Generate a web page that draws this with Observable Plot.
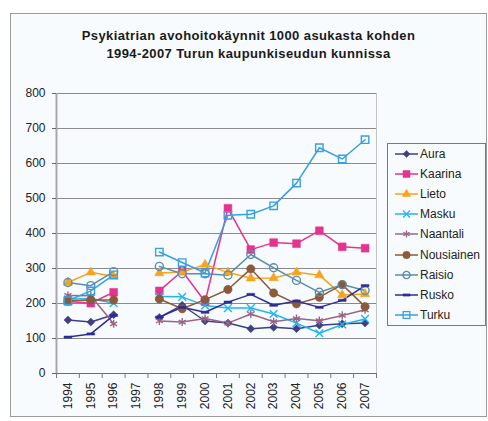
<!DOCTYPE html>
<html><head><meta charset="utf-8">
<script src="https://cdn.jsdelivr.net/npm/d3@7"></script>
<script src="https://cdn.jsdelivr.net/npm/@observablehq/plot@0.6"></script>
<style>
body{margin:0;background:#fff;font-family:"Liberation Sans",Arial,sans-serif;}
#wrap{position:relative;width:488px;height:421px;overflow:hidden;}
#frame{position:absolute;left:10px;top:13px;width:477px;height:404px;border:1px solid #9a9a9a;background:#f8fbfd;box-sizing:border-box;}
#title{position:absolute;left:10px;width:477px;top:27px;text-align:center;font-weight:bold;font-size:13px;line-height:18px;color:#1a1a1a;letter-spacing:0.4px;}
#chart{position:absolute;left:0;top:0;}
#legend{position:absolute;left:387px;top:143px;width:99px;height:183px;border:1px solid #7a7a7a;box-sizing:border-box;background:#f8fbfd;}
.row{display:flex;align-items:center;height:20.1px;font-size:12px;color:#222;}
.row svg{flex:none;}
</style></head><body>
<div id="wrap">
  <div id="frame"></div>
  <div id="title">Psykiatrian avohoitokäynnit 1000 asukasta kohden<br>1994-2007 Turun kaupunkiseudun kunnissa</div>
  <div id="chart"></div>
  <div id="legend"></div>
</div>
<script>
// ---- data ----
const years = [1994,1995,1996,1997,1998,1999,2000,2001,2002,2003,2004,2005,2006,2007];
const yTicks = [0,100,200,300,400,500,600,700,800];
const seriesNames = ["Aura","Kaarina","Lieto","Masku","Naantali","Nousiainen","Raisio","Rusko","Turku"];
const aura       = [153,147,168,null,160,195,150,144,128,132,128,138,142,144];
const kaarina    = [206,201,232,null,236,293,205,472,354,374,371,408,362,358];
const lieto      = [260,289,277,null,287,290,311,289,272,273,289,281,224,227];
const masku      = [212,214,201,null,220,219,194,187,187,170,144,115,140,156];
const naantali   = [223,222,142,null,150,147,157,144,170,148,157,151,166,182];
const nousiainen = [207,210,210,null,213,185,211,240,299,230,199,218,254,191];
const raisio     = [260,251,291,null,306,285,285,281,340,302,266,232,254,237];
const rusko      = [104,113,166,null,161,189,175,204,226,195,207,189,209,251];
const turku      = [208,236,282,null,347,317,287,452,455,479,544,645,613,668];
const seriesValues = [aura,kaarina,lieto,masku,naantali,nousiainen,raisio,rusko,turku];

// ---- styles ----
const dash = {draw(ctx, size){ const w = Math.sqrt(size)*1.3; ctx.rect(-w/2, -1.1, w, 2.2); }};
const styles = [
  {color:"#3f3f82", symbol:"diamond2", filled:true,  r:3.6},
  {color:"#e5338e", symbol:"square",   filled:true,  r:4.4},
  {color:"#f6a31e", symbol:"triangle", filled:true,  r:3.5},
  {color:"#22b6ee", symbol:"times",    filled:false, r:3.6},
  {color:"#9a6585", symbol:"asterisk", filled:false, r:3.8},
  {color:"#8a5a3a", symbol:"circle",   filled:true,  r:4.2},
  {color:"#5a8dab", symbol:"circle",   filled:false, r:4.0},
  {color:"#2d2d95", symbol:dash,       filled:true,  r:3.4},
  {color:"#36a0e0", symbol:"square",   filled:false, r:4.2}
];
const d3sym = {diamond2:d3.symbolDiamond2, square:d3.symbolSquare, triangle:d3.symbolTriangle, times:d3.symbolTimes, asterisk:d3.symbolAsterisk, circle:d3.symbolCircle};

const tables = seriesNames.map((name,i) => years.map((year,j) => ({name, year, value: seriesValues[i][j] == null ? undefined : seriesValues[i][j]})));
const boundaries = years.map(y => y - 0.5).concat([years[years.length-1] + 0.5]);

const marks = [
  Plot.ruleY(yTicks, {stroke:"#8a8a8a", strokeWidth:1}),
  Plot.ruleX([boundaries[boundaries.length-1]], {stroke:"#c4c4c4", strokeWidth:1}),
  Plot.ruleX([boundaries[0]], {stroke:"#a8a8a8", strokeWidth:2}),
  Plot.ruleY([0], {stroke:"#6f6f6f", strokeWidth:1.2}),
  Plot.axisY({ticks:yTicks, tickSize:4, tickPadding:7, stroke:"#666", fontSize:12, label:null}),
  Plot.axisX({ticks:boundaries, tickSize:5, tickFormat:()=>"", stroke:"#777", label:null}),
  Plot.axisX({ticks:years, tickSize:0, tickPadding:9, tickRotate:-90, tickFormat:d=>String(d), fontSize:12, label:null})
];
tables.forEach((rows,i) => {
  const s = styles[i];
  marks.push(Plot.line(rows, {x:"year", y:"value", stroke:s.color, strokeWidth:1.5}));
});
tables.forEach((rows,i) => {
  const s = styles[i];
  marks.push(Plot.dot(rows.filter(d => d.value !== undefined), {x:"year", y:"value", symbol:s.symbol, r:s.r,
    fill: s.filled ? s.color : "none", stroke: s.color, strokeWidth: s.filled ? 0.5 : 1.4}));
});

const chart = Plot.plot({
  width:488, height:421,
  marginLeft:56, marginRight:112, marginTop:93, marginBottom:48,
  style:{background:"transparent", fontFamily:"'Liberation Sans', Arial, sans-serif", fontSize:"12px", color:"#222"},
  x:{domain:[boundaries[0], boundaries[boundaries.length-1]], label:null},
  y:{domain:[0,800], label:null},
  marks
});
document.getElementById("chart").appendChild(chart);

// ---- legend ----
const legend = d3.select("#legend");
seriesNames.forEach((name,i) => {
  const s = styles[i];
  const row = legend.append("div").attr("class","row");
  const svg = row.append("svg").attr("width",31).attr("height",14);
  svg.append("line").attr("x1",7).attr("x2",30).attr("y1",7).attr("y2",7).attr("stroke",s.color).attr("stroke-width",1.5);
  const symType = typeof s.symbol === "string" ? d3sym[s.symbol] : s.symbol;
  svg.append("path").attr("transform","translate(18.5,7)")
    .attr("d", d3.symbol(symType, Math.PI*s.r*s.r*0.8)())
    .attr("fill", s.filled ? s.color : "none").attr("stroke", s.color).attr("stroke-width", s.filled ? 0.5 : 1.3);
  row.append("span").text(name).style("margin-left","1px");
});
</script>
</body></html>
